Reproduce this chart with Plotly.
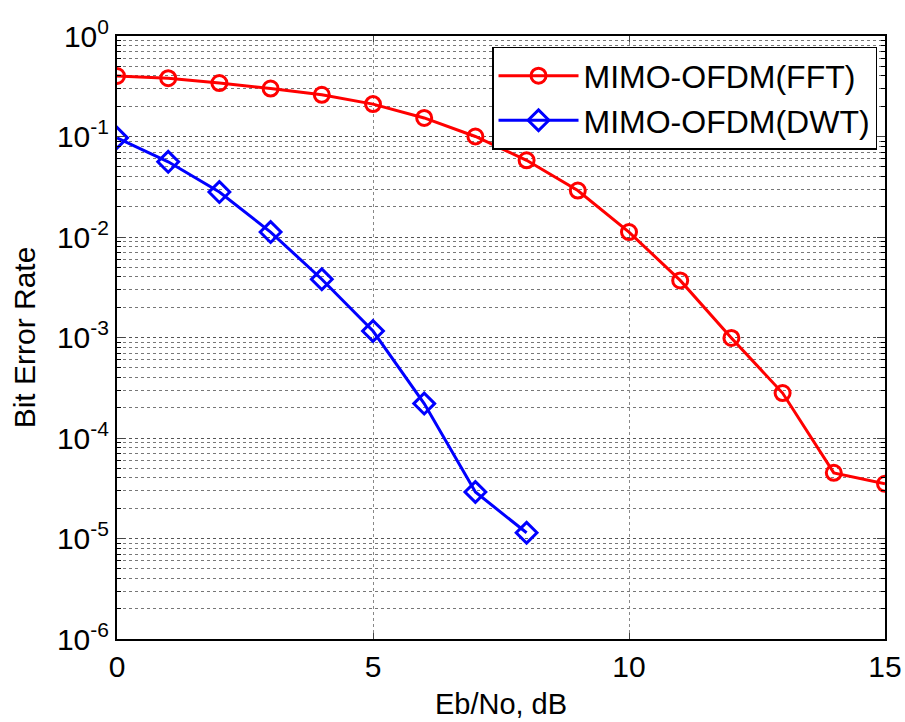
import plotly.graph_objects as go

ebno = list(range(0, 16))
ber_fft = [0.40, 0.38, 0.34, 0.30, 0.26, 0.21, 0.153, 0.10, 0.058, 0.029,
           0.0112, 0.0037, 0.00099, 0.00028, 4.5e-5, 3.5e-5]
ebno_dwt = list(range(0, 9))
ber_dwt = [0.097, 0.056, 0.028, 0.0112, 0.0038, 0.00116, 0.00022, 2.9e-5, 1.14e-5]

ytick_vals = [1e0, 1e-1, 1e-2, 1e-3, 1e-4, 1e-5, 1e-6]
ytick_text = ["10<sup>0</sup>", "10<sup>-1</sup>", "10<sup>-2</sup>", "10<sup>-3</sup>",
              "10<sup>-4</sup>", "10<sup>-5</sup>", "10<sup>-6</sup>"]
xtick_vals = [0, 5, 10, 15]

fig = go.Figure()
fig.add_trace(go.Scatter(
    x=ebno, y=ber_fft, mode="lines+markers", name="MIMO-OFDM(FFT)",
    line=dict(color="#ff0000", width=3),
    marker=dict(symbol="circle-open", size=15, color="#ff0000", line=dict(width=3)),
))
fig.add_trace(go.Scatter(
    x=ebno_dwt, y=ber_dwt, mode="lines+markers", name="MIMO-OFDM(DWT)",
    line=dict(color="#0000ff", width=3),
    marker=dict(symbol="diamond-open", size=16, color="#0000ff", line=dict(width=3)),
))

fig.update_layout(
    width=905, height=722,
    margin=dict(l=117, r=20, t=36, b=83),
    paper_bgcolor="white", plot_bgcolor="white",
    font=dict(family="Liberation Sans, Arial", color="black", size=28),
    showlegend=True,
    legend=dict(
        x=0.9896, y=0.982, xanchor="right", yanchor="top",
        bgcolor="white", bordercolor="black", borderwidth=1.5,
        font=dict(size=32), itemwidth=80, tracegroupgap=0,
    ),
)
fig.update_xaxes(
    range=[0, 15], tickvals=xtick_vals, ticks="inside", ticklen=6,
    showline=True, linecolor="black", linewidth=2, mirror="ticks",
    showgrid=True, gridcolor="#888888", griddash="dot", gridwidth=1,
    tickfont=dict(size=30), zeroline=False, automargin=False,
    ticklabeloverflow="allow",
    title=dict(text="Eb/No, dB", font=dict(size=29), standoff=12),
)
fig.update_yaxes(
    type="log", range=[-6, 0], tickvals=ytick_vals, ticktext=ytick_text,
    ticks="inside", ticklen=8,
    showline=True, linecolor="black", linewidth=2, mirror="ticks",
    showgrid=True, gridcolor="#555555", griddash="dot", gridwidth=1,
    tickfont=dict(size=30), zeroline=False, automargin=False,
    minor=dict(ticks="inside", ticklen=4, dtick="D1", showgrid=True,
               gridcolor="#777777", griddash="dot", gridwidth=1, tickcolor="black"),
    title=dict(text="Bit Error Rate", font=dict(size=30), standoff=12),
)

fig.write_html(
    "out.html",
    config={"displayModeBar": False},
    post_script="document.body.style.margin='0';document.body.style.overflow='hidden';",
)
